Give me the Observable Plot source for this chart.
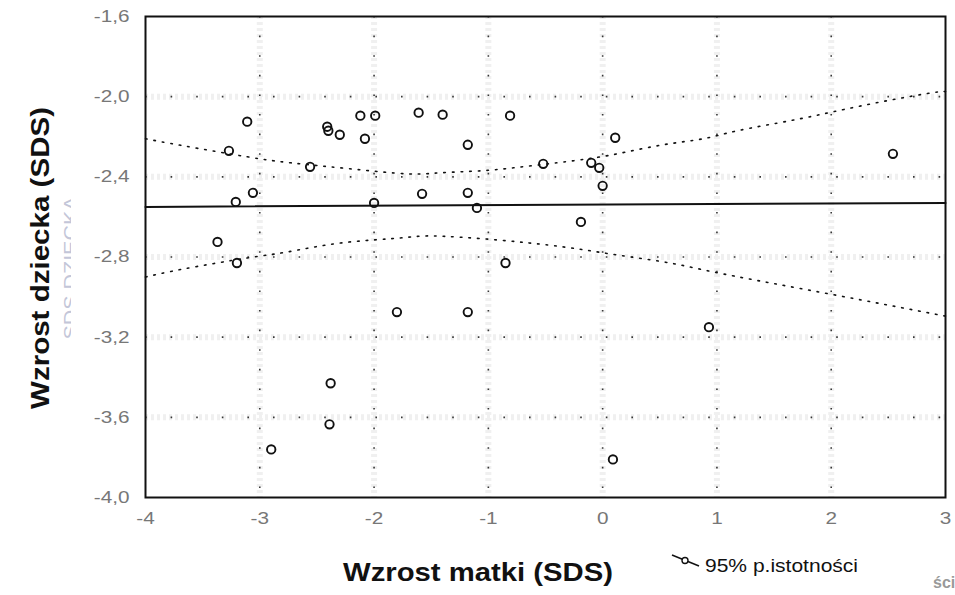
<!DOCTYPE html>
<html>
<head>
<meta charset="utf-8">
<script src="https://cdn.jsdelivr.net/npm/d3@7"></script>
<script src="https://cdn.jsdelivr.net/npm/@observablehq/plot@0.6"></script>
<style>
  html, body { margin: 0; padding: 0; background: #fff; }
  svg { display: block; }
</style>
</head>
<body>
<div id="chart"></div>
<script>
// Scatter data: mother height SDS (x) vs child height SDS (y)
const motherSDS = [-3.11, -3.27, -3.21, -3.06, -2.56, -2.41, -2.40, -2.30, -2.12, -1.99, -2.08, -3.37,
  -1.58, -1.61, -1.40, -0.81, -1.18, -0.52, -0.10, -0.03, 0.00, 0.11, -1.18, -1.10, -0.19, 2.54,
  -3.20, -1.80, -2.38, -2.39, -2.90, -0.85, -1.18, 0.93, 0.09, -2.00];
const childSDS = [-2.125, -2.27, -2.525, -2.48, -2.35, -2.15, -2.17, -2.19, -2.095, -2.095, -2.21, -2.725,
  -2.485, -2.08, -2.09, -2.095, -2.24, -2.335, -2.33, -2.355, -2.445, -2.205, -2.48, -2.555, -2.625, -2.285,
  -2.83, -3.075, -3.43, -3.635, -3.76, -2.83, -3.075, -3.15, -3.81, -2.53];

// Regression line
const regX = [-4, 3];
const regY = [-2.55, -2.53];

// 95% confidence band, upper
const upperX = [-4, -3.67, -3.11, -2.73, -2.21, -1.71, -1.42, -1.07, -0.78, -0.40, -0.13, 0.13, 0.53, 0.88, 1.18, 1.64, 2.02, 2.49, 2.89, 3];
const upperY = [-2.21, -2.245, -2.30, -2.33, -2.36, -2.385, -2.38, -2.37, -2.355, -2.33, -2.31, -2.285, -2.24, -2.21, -2.17, -2.12, -2.075, -2.02, -1.98, -1.975];
// 95% confidence band, lower
const lowerX = [-4, -3.67, -3.11, -2.76, -2.29, -1.77, -1.48, -0.92, -0.34, 0.13, 0.59, 1.06, 1.99, 3];
const lowerY = [-2.90, -2.86, -2.805, -2.775, -2.73, -2.705, -2.695, -2.715, -2.75, -2.79, -2.83, -2.885, -2.985, -3.095];

const xTicks = [-4, -3, -2, -1, 0, 1, 2, 3];
const yTicks = [-1.6, -2.0, -2.4, -2.8, -3.2, -3.6, -4.0];
const xFmt = d => String(d).replace("\u2212", "-");
const yFmt = d => d.toFixed(1).replace(".", ",");

const points = motherSDS.map((x, i) => ({x, y: childSDS[i]}));
const reg = regX.map((x, i) => ({x, y: regY[i]}));
const upper = upperX.map((x, i) => ({x, y: upperY[i]}));
const lower = lowerX.map((x, i) => ({x, y: lowerY[i]}));

const FONT = "Arial, 'Liberation Sans', sans-serif";
const W = 955, H = 595;
const chart = Plot.plot({
  width: W,
  height: H,
  marginLeft: 145,
  marginRight: 10,
  marginTop: 16,
  marginBottom: 98,
  style: {fontFamily: FONT, fontSize: "17px", background: "#fff"},
  x: {domain: [-4, 3], ticks: xTicks, tickFormat: xFmt},
  y: {domain: [-4.0, -1.6], ticks: yTicks, tickFormat: yFmt},
  marks: [
    Plot.gridX(xTicks.slice(1, -1), {stroke: "#f0f0f0", strokeOpacity: 1, strokeWidth: 6, strokeDasharray: "3,3"}),
    Plot.gridY(yTicks.slice(1, -1), {stroke: "#f0f0f0", strokeOpacity: 1, strokeWidth: 6, strokeDasharray: "3,3"}),
    Plot.gridX(xTicks.slice(1, -1), {stroke: "#222", strokeOpacity: 0.9, strokeWidth: 1.6, strokeDasharray: "1.6,18"}),
    Plot.gridY(yTicks.slice(1, -1), {stroke: "#222", strokeOpacity: 0.9, strokeWidth: 1.6, strokeDasharray: "1.6,24"}),
    Plot.axisX(xTicks, {tickSize: 0, tickPadding: 14, fill: "#777", fontSize: 17, tickFormat: xFmt, label: null}),
    Plot.axisY(yTicks, {tickSize: 0, tickPadding: 16, fill: "#777", fontSize: 17, tickFormat: yFmt, label: null}),
    Plot.line(upper, {x: "x", y: "y", stroke: "#111", strokeWidth: 1.6, strokeDasharray: "1.6,7", curve: "natural"}),
    Plot.line(lower, {x: "x", y: "y", stroke: "#111", strokeWidth: 1.6, strokeDasharray: "1.6,7", curve: "natural"}),
    Plot.line(reg, {x: "x", y: "y", stroke: "#111", strokeWidth: 2}),
    Plot.dot(points, {x: "x", y: "y", r: 4.2, stroke: "#111", strokeWidth: 1.9, fill: "none"}),
    Plot.frame({stroke: "#111", strokeWidth: 2})
  ]
});

document.getElementById("chart").appendChild(chart);
const svg = d3.select(chart);

// stretch tick labels slightly (reference font is wider)
svg.selectAll("g[aria-label='x-axis tick label'] text, g[aria-label='y-axis tick label'] text").each(function() {
  const len = this.getComputedTextLength();
  d3.select(this).attr("textLength", len * 1.22).attr("lengthAdjust", "spacingAndGlyphs");
});

function addText(parent, x, y, str, opts) {
  const t = parent.append("text")
    .attr("x", x).attr("y", y)
    .attr("font-family", FONT)
    .attr("font-size", opts.size)
    .attr("font-weight", opts.weight || "normal")
    .attr("fill", opts.fill || "#111")
    .attr("text-anchor", opts.anchor || "start")
    .text(str);
  if (opts.rotate) t.attr("transform", `rotate(${opts.rotate},${x},${y})`);
  if (opts.length) t.attr("textLength", opts.length).attr("lengthAdjust", "spacingAndGlyphs");
  return t;
}

// ghost label (faint, partly cut)
const defs = svg.append("defs");
defs.append("clipPath").attr("id", "ghostclip").append("rect").attr("x", 55).attr("y", 180).attr("width", 16).attr("height", 180);
const ghost = svg.append("g").attr("clip-path", "url(#ghostclip)");
addText(ghost, 77, 268, "SDS DZIECKA", {size: 18, fill: "#c3c6d8", anchor: "middle", rotate: -90, length: 143});

// axis titles
addText(svg, 49, 258, "Wzrost dziecka (SDS)", {size: 26, weight: "bold", anchor: "middle", rotate: -90, length: 302});
addText(svg, 478, 581, "Wzrost matki (SDS)", {size: 26, weight: "bold", anchor: "middle", length: 270});

// legend
const lg = svg.append("g").attr("transform", "translate(672,555)");
lg.append("line").attr("x1", 0).attr("y1", 0).attr("x2", 27).attr("y2", 11).attr("stroke", "#111").attr("stroke-width", 1.5);
lg.append("circle").attr("cx", 13).attr("cy", 5.5).attr("r", 3).attr("fill", "#fff").attr("stroke", "#111").attr("stroke-width", 1.4);
addText(svg, 705, 572, "95% p.istotności", {size: 19, length: 153});
addText(svg, 933, 588, "ści", {size: 16, weight: "bold", fill: "#999"});
</script>
</body>
</html>
